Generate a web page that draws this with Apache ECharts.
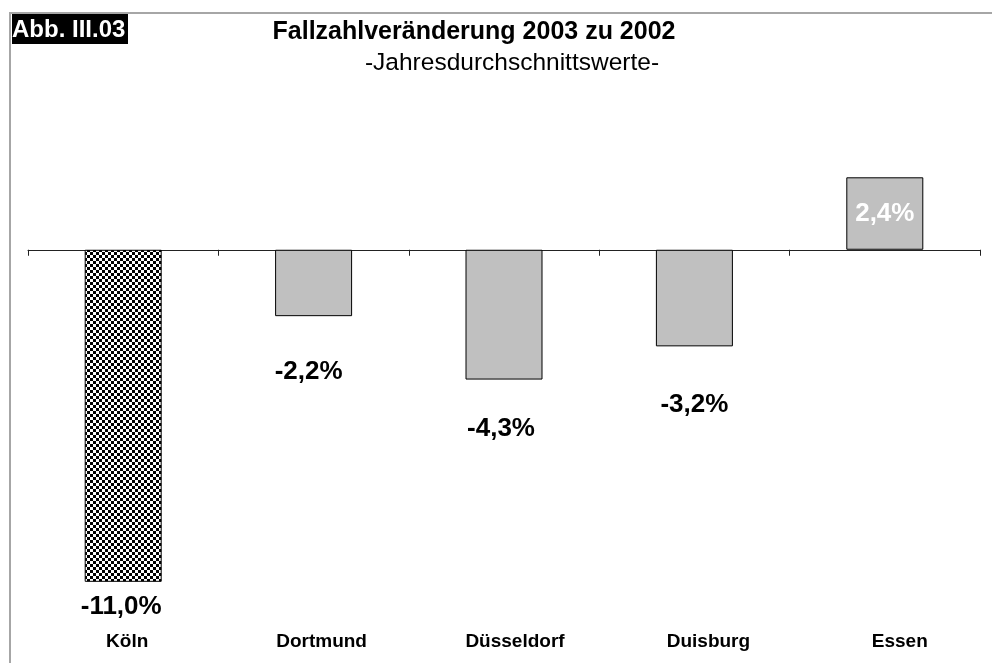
<!DOCTYPE html>
<html>
<head>
<meta charset="utf-8">
<script src="https://cdn.jsdelivr.net/npm/echarts@6/dist/echarts.min.js"></script>
<style>
  html, body { margin: 0; padding: 0; background: #fff; }
  #chart { width: 992px; height: 663px; }
</style>
</head>
<body>
<div id="chart"></div>
<script>
// data
const cities = ['Köln', 'Dortmund', 'Düsseldorf', 'Duisburg', 'Essen']
const changes = [-11.0, -2.2, -4.3, -3.2, 2.4]
const yRange = [-12, 4]

const FONT = "'Liberation Sans', Arial, sans-serif"

// layout tweaks for labels (distance below bar, horizontal nudge)
const valueGap = [12, 43, 36, 45, 0]
const valueShift = [-2, -5, -3, 0, 0]
const nameShift = [4, 8, 11, 14, 15]

function checker() {
  const c = document.createElement('canvas')
  c.width = 6
  c.height = 6
  const g = c.getContext('2d')
  g.fillStyle = '#fff'
  g.fillRect(0, 0, 6, 6)
  g.fillStyle = '#000'
  g.fillRect(0, 0, 3, 3)
  g.fillRect(3, 3, 3, 3)
  return c
}

const fmt = v => v.toFixed(1).replace('.', ',') + '%'

const rich = {}
nameShift.forEach((s, i) => {
  rich['c' + i] = {
    fontFamily: FONT, fontSize: 19, fontWeight: 'bold', color: '#000',
    padding: s > 0 ? [0, 0, 0, s * 2] : [0, -s * 2, 0, 0],
  }
})

const chart = echarts.init(document.getElementById('chart'))

chart.setOption({
  animation: false,
  backgroundColor: '#fff',
  textStyle: { fontFamily: FONT },
  graphic: [
    {
      type: 'rect',
      shape: { x: 10, y: 13, width: 1100, height: 800 },
      style: { fill: 'none', stroke: '#a6a6a6', lineWidth: 2 },
      silent: true,
    },
    {
      type: 'rect',
      shape: { x: 12, y: 14, width: 116, height: 30 },
      style: { fill: '#000' },
    },
    {
      type: 'text',
      style: {
        x: 12, y: 30, text: 'Abb. III.03', fill: '#fff',
        font: 'bold 24px ' + FONT, textVerticalAlign: 'middle',
      },
    },
    {
      type: 'text',
      style: {
        x: 474, y: 32, text: 'Fallzahlveränderung 2003 zu 2002', fill: '#000',
        font: 'bold 25px ' + FONT, textAlign: 'center', textVerticalAlign: 'middle',
      },
    },
    {
      type: 'text',
      style: {
        x: 512, y: 63, text: '-Jahresdurchschnittswerte-', fill: '#000',
        font: '24.5px ' + FONT, textAlign: 'center', textVerticalAlign: 'middle',
      },
    },
  ],
  grid: { left: 28, right: 12, top: 129, bottom: 51 },
  xAxis: [
    {
      type: 'category',
      data: cities,
      axisLine: { onZero: true, lineStyle: { color: '#222', width: 1 } },
      axisTick: { show: true, length: 6, lineStyle: { color: '#222' } },
      axisLabel: { show: false },
    },
    {
      type: 'category',
      data: cities,
      position: 'bottom',
      axisLine: { show: false, onZero: false },
      axisTick: { show: false },
      axisLabel: {
        margin: 20,
        lineHeight: 20,
        formatter: (v, i) => `{c${i}|${v}}`,
        rich,
      },
    },
  ],
  yAxis: {
    type: 'value',
    min: yRange[0],
    max: yRange[1],
    show: false,
  },
  series: [
    {
      type: 'bar',
      barWidth: 77,
      data: changes.map((v, i) => ({
        value: v,
        itemStyle: i === 0
          ? { color: { image: checker(), repeat: 'repeat' }, borderColor: '#000', borderWidth: 1 }
          : { color: '#c0c0c0', borderColor: '#000', borderWidth: 1 },
        label: v >= 0
          ? { position: 'inside', color: '#fff' }
          : { position: 'bottom', distance: valueGap[i], offset: [valueShift[i], 0], color: '#000' },
      })),
      label: {
        show: true,
        fontFamily: FONT,
        fontSize: 26,
        fontWeight: 'bold',
        lineHeight: 26,
        formatter: p => fmt(p.value),
      },
    },
  ],
})
</script>
</body>
</html>
